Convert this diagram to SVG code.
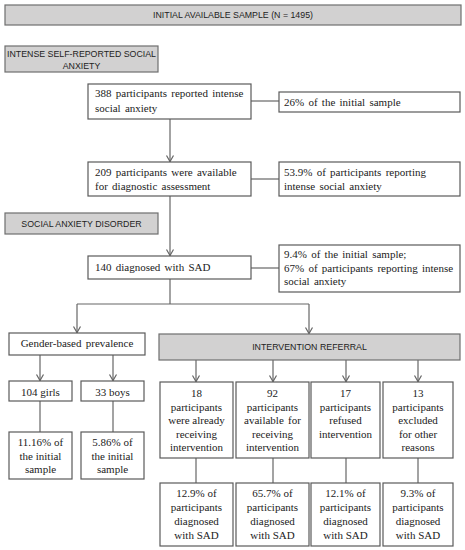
<svg xmlns="http://www.w3.org/2000/svg" width="465" height="550" viewBox="0 0 465 550">
<style>
.g{fill:#d2d1d1;stroke:#6e6e6e;stroke-width:1.2}
.w{fill:#ffffff;stroke:#5a5a5a;stroke-width:1.2}
.s{font-family:"Liberation Sans",Arial,sans-serif;font-size:8.8px;fill:#222}
.t{font-family:"Liberation Serif","Times New Roman","DejaVu Serif",serif;font-size:11px;fill:#222}
.c{text-anchor:middle}
.ln{stroke:#666;stroke-width:1.2;fill:none}
.ah{stroke:#666;stroke-width:1.2;fill:none}
</style>
<defs>
<path id="ar" class="ah" d="M-3.5,-6 L0,0 L3.5,-6"/>
</defs>
<rect width="465" height="550" fill="#ffffff"/>
<g id="connectors">
<line class="ln" x1="251" y1="101" x2="279" y2="101"/>
<line class="ln" x1="170" y1="119" x2="170" y2="162"/>
<use href="#ar" x="170" y="161.5"/>
<line class="ln" x1="251" y1="179" x2="279" y2="179"/>
<line class="ln" x1="170" y1="196" x2="170" y2="256"/>
<use href="#ar" x="170" y="255.5"/>
<line class="ln" x1="251" y1="268" x2="279" y2="268"/>
<line class="ln" x1="170" y1="279" x2="170" y2="304"/>
<line class="ln" x1="77" y1="304" x2="309" y2="304"/>
<line class="ln" x1="77" y1="304" x2="77" y2="333"/>
<use href="#ar" x="77" y="332.5"/>
<line class="ln" x1="309" y1="304" x2="309" y2="334"/>
<use href="#ar" x="309" y="333.5"/>
<line class="ln" x1="40" y1="355" x2="40" y2="381"/>
<use href="#ar" x="40" y="380.5"/>
<line class="ln" x1="113" y1="355" x2="113" y2="381"/>
<use href="#ar" x="113" y="380.5"/>
<line class="ln" x1="40" y1="401" x2="40" y2="432"/>
<line class="ln" x1="113" y1="401" x2="113" y2="432"/>
<line class="ln" x1="196" y1="360" x2="196" y2="382"/>
<use href="#ar" x="196" y="381.5"/>
<line class="ln" x1="273" y1="360" x2="273" y2="382"/>
<use href="#ar" x="273" y="381.5"/>
<line class="ln" x1="346" y1="360" x2="346" y2="382"/>
<use href="#ar" x="346" y="381.5"/>
<line class="ln" x1="418" y1="360" x2="418" y2="382"/>
<use href="#ar" x="418" y="381.5"/>
<line class="ln" x1="196" y1="458" x2="196" y2="483"/>
<line class="ln" x1="273" y1="458" x2="273" y2="483"/>
<line class="ln" x1="346" y1="458" x2="346" y2="483"/>
<line class="ln" x1="418" y1="458" x2="418" y2="483"/>
</g>
<g id="initial">
<rect class="g" x="5" y="5" width="456" height="20"/>
<text class="s c" x="233" y="18.2">INITIAL AVAILABLE SAMPLE (N = 1495)</text>
</g>
<g id="intense-header">
<rect class="g" x="5" y="46" width="153" height="26"/>
<text class="s c" x="81.5" y="56.5">INTENSE SELF-REPORTED SOCIAL</text>
<text class="s c" x="81.5" y="68.5">ANXIETY</text>
</g>
<g id="n388">
<rect class="w" x="88" y="84" width="163" height="35"/>
<text class="t" x="95" y="97" word-spacing="1.5">388 participants  reported intense</text>
<text class="t" x="95" y="112" word-spacing="1.5">social anxiety</text>
</g>
<g id="p26">
<rect class="w" x="279" y="92" width="181" height="20"/>
<text class="t" x="284" y="106" word-spacing="1.5">26% of the initial  sample</text>
</g>
<g id="n209">
<rect class="w" x="88" y="162" width="163" height="34"/>
<text class="t" x="95" y="176" word-spacing="1.5">209 participants  were available</text>
<text class="t" x="95" y="190" word-spacing="1.5">for diagnostic  assessment</text>
</g>
<g id="p539">
<rect class="w" x="279" y="162" width="181" height="34"/>
<text class="t" x="284" y="176" word-spacing="1.5">53.9% of participants  reporting</text>
<text class="t" x="284" y="190" word-spacing="1.5">intense  social  anxiety</text>
</g>
<g id="sad-header">
<rect class="g" x="5" y="213" width="153" height="21"/>
<text class="s c" x="81.5" y="226.5">SOCIAL ANXIETY DISORDER</text>
</g>
<g id="n140">
<rect class="w" x="88" y="256" width="163" height="23"/>
<text class="t" x="95" y="271" word-spacing="1.5">140 diagnosed  with  SAD</text>
</g>
<g id="p94">
<rect class="w" x="279" y="245" width="181" height="47"/>
<text class="t" x="284" y="258" word-spacing="1.5">9.4% of the initial  sample;</text>
<text class="t" x="284" y="271.5" word-spacing="1.5">67% of participants  reporting  intense</text>
<text class="t" x="284" y="285" word-spacing="1.5">social  anxiety</text>
</g>
<g id="gender">
<rect class="w" x="9" y="333" width="136" height="22"/>
<text class="t c" x="77" y="347" word-spacing="1.5">Gender-based prevalence</text>
</g>
<g id="referral">
<rect class="g" x="159" y="334" width="301" height="26"/>
<text class="s c" x="309.5" y="350">INTERVENTION REFERRAL</text>
</g>
<g id="girls">
<rect class="w" x="9" y="381" width="63" height="20"/>
<text class="t c" x="40.5" y="396">104 girls</text>
</g>
<g id="boys">
<rect class="w" x="81" y="381" width="63" height="20"/>
<text class="t c" x="112.5" y="396">33 boys</text>
</g>
<g id="girls-pct">
<rect class="w" x="9" y="432" width="63" height="47"/>
<text class="t c" x="40.5" y="446">11.16% of</text>
<text class="t c" x="40.5" y="460">the initial</text>
<text class="t c" x="40.5" y="473">sample</text>
</g>
<g id="boys-pct">
<rect class="w" x="81" y="432" width="63" height="47"/>
<text class="t c" x="112.5" y="446">5.86% of</text>
<text class="t c" x="112.5" y="460">the initial</text>
<text class="t c" x="112.5" y="473">sample</text>
</g>
<g id="r18">
<rect class="w" x="160" y="382" width="73" height="76"/>
<text class="t c" x="196.5" y="397">18</text>
<text class="t c" x="196.5" y="410.5">participants</text>
<text class="t c" x="196.5" y="424">were already</text>
<text class="t c" x="196.5" y="437.5">receiving</text>
<text class="t c" x="196.5" y="451">intervention</text>
</g>
<g id="r92">
<rect class="w" x="236" y="382" width="73" height="76"/>
<text class="t c" x="272.5" y="397">92</text>
<text class="t c" x="272.5" y="410.5">participants</text>
<text class="t c" x="272.5" y="424" word-spacing="1.5">available for</text>
<text class="t c" x="272.5" y="437.5">receiving</text>
<text class="t c" x="272.5" y="451">intervention</text>
</g>
<g id="r17">
<rect class="w" x="311" y="382" width="69" height="76"/>
<text class="t c" x="345.5" y="397">17</text>
<text class="t c" x="345.5" y="410.5">participants</text>
<text class="t c" x="345.5" y="424">refused</text>
<text class="t c" x="345.5" y="437.5">intervention</text>
</g>
<g id="r13">
<rect class="w" x="383" y="382" width="70" height="76"/>
<text class="t c" x="418" y="397">13</text>
<text class="t c" x="418" y="410.5">participants</text>
<text class="t c" x="418" y="424">excluded</text>
<text class="t c" x="418" y="437.5">for other</text>
<text class="t c" x="418" y="451">reasons</text>
</g>
<g id="p129">
<rect class="w" x="160" y="483" width="73" height="63"/>
<text class="t c" x="196.5" y="497">12.9% of</text>
<text class="t c" x="196.5" y="511">participants</text>
<text class="t c" x="196.5" y="525">diagnosed</text>
<text class="t c" x="196.5" y="538.5">with SAD</text>
</g>
<g id="p657">
<rect class="w" x="236" y="483" width="73" height="63"/>
<text class="t c" x="272.5" y="497">65.7% of</text>
<text class="t c" x="272.5" y="511">participants</text>
<text class="t c" x="272.5" y="525">diagnosed</text>
<text class="t c" x="272.5" y="538.5">with SAD</text>
</g>
<g id="p121">
<rect class="w" x="311" y="483" width="69" height="63"/>
<text class="t c" x="345.5" y="497">12.1% of</text>
<text class="t c" x="345.5" y="511">participants</text>
<text class="t c" x="345.5" y="525">diagnosed</text>
<text class="t c" x="345.5" y="538.5">with SAD</text>
</g>
<g id="p93">
<rect class="w" x="383" y="483" width="70" height="63"/>
<text class="t c" x="418" y="497">9.3% of</text>
<text class="t c" x="418" y="511">participants</text>
<text class="t c" x="418" y="525">diagnosed</text>
<text class="t c" x="418" y="538.5">with SAD</text>
</g>
</svg>
